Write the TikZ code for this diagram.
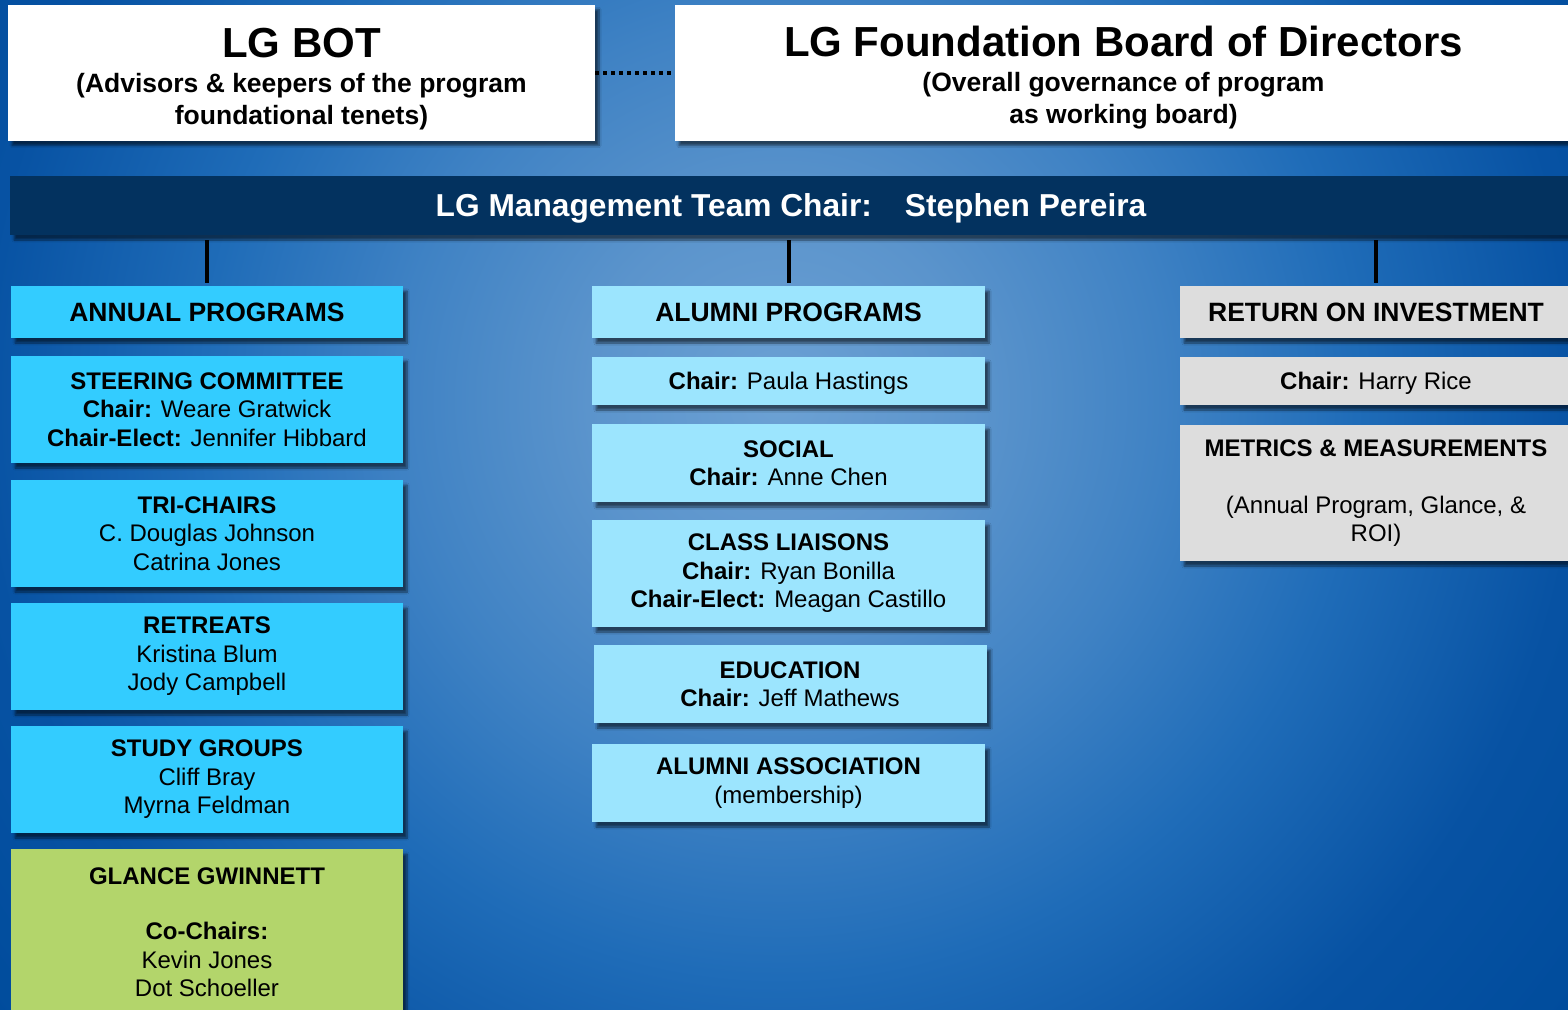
\documentclass[tikz,border=0pt]{standalone}
\usepackage{fontspec}
\setmainfont{Liberation Sans}
\usetikzlibrary{shadows.blur}

\definecolor{bgcore}{HTML}{6CA1D4}
\definecolor{bgmid}{HTML}{5B94CC}
\definecolor{bgfar}{HTML}{3F82C4}
\definecolor{bgout}{HTML}{1F6CB8}
\definecolor{bgedge}{HTML}{0752A3}
\definecolor{bgcorner}{HTML}{004C9C}
\definecolor{navy}{HTML}{03325F}
\definecolor{annual}{HTML}{33CCFF}
\definecolor{alumni}{HTML}{9CE5FE}
\definecolor{roigray}{HTML}{DDDDDD}
\definecolor{glance}{HTML}{B3D56B}
\pgfdeclareradialshading{bgglow}{\pgfpoint{0bp}{0bp}}{color(0bp)=(bgcore); color(4.8bp)=(bgmid); color(9.6bp)=(bgfar); color(14.4bp)=(bgout); color(20bp)=(bgedge); color(25bp)=(bgcorner); color(50bp)=(bgcorner)}

\begin{document}
\begin{tikzpicture}[x=1pt,y=-1pt,
  box/.style={rectangle,inner sep=0pt,align=center,font=\fontsize{24}{28.5}\selectfont,
    blur shadow={shadow xshift=4pt,shadow yshift=-5pt,shadow blur steps=8,shadow opacity=55}},
  topbox/.style={box,fill=white,minimum height=136pt,font=\fontsize{26.5}{32}\selectfont\bfseries},
  head/.style={minimum height=52pt,text height=19pt,text depth=0pt,font=\fontsize{26.5}{30}\selectfont\bfseries},
  oneline/.style={minimum height=48pt,text height=17.2pt,text depth=0pt},
  annbox/.style={box,fill=annual,minimum width=392pt},
  alubox/.style={box,fill=alumni,minimum width=393pt},
  roibox/.style={box,fill=roigray,minimum width=392pt},
  conn/.style={line width=4pt,shorten <=5pt,shorten >=3pt},
  dotline/.style={line width=4pt,dash pattern=on 4pt off 4pt}]
\useasboundingbox (0,0) rectangle (1568,1009);
\clip (0,0) rectangle (1568,1009);
\fill[bgcorner] (0,0) rectangle (1568,1009);
\shade[shading=bgglow] (780,400) circle (1000pt);

\node[topbox,minimum width=587pt] (bot) at (301.5,72.5) {\rule{0pt}{42pt}{\fontsize{42}{42}\selectfont LG BOT}\\[2.5pt](Advisors \& keepers of the program\\foundational tenets)};
\node[topbox,minimum width=897pt] (found) at (1123.5,72.5) {\rule{0pt}{41pt}{\fontsize{42}{42}\selectfont LG Foundation Board of Directors}\\[3pt](Overall governance of program\\as working board)};
\draw[dotline] (bot.east) -- (found.west);

\node[box,fill=navy,text=white,minimum width=1562pt,minimum height=59pt,text height=22.7pt,text depth=0pt,font=\fontsize{31.7}{34}\selectfont\bfseries] (bar) at (791,205.5) {LG Management Team Chair:\hspace{33pt}Stephen Pereira};

\node[annbox,head] (ann) at (207,312) {ANNUAL PROGRAMS};
\node[annbox,minimum height=107pt] (steer) at (207,409.5) {\textbf{STEERING COMMITTEE}\\\textbf{Chair:} Weare Gratwick\\\textbf{Chair-Elect:} Jennifer Hibbard};
\node[annbox,minimum height=107pt] (tri) at (207,533.5) {\textbf{TRI-CHAIRS}\\C. Douglas Johnson\\Catrina Jones};
\node[annbox,minimum height=107pt] (retreat) at (207,656.5) {\textbf{RETREATS}\\Kristina Blum\\Jody Campbell};
\node[annbox,minimum height=107pt] (study) at (207,779.5) {\textbf{STUDY GROUPS}\\Cliff Bray\\Myrna Feldman};
\node[annbox,fill=glance,minimum height=166pt] (glance) at (207,932) {\textbf{GLANCE GWINNETT}\\[27pt]\textbf{Co-Chairs:}\\Kevin Jones\\Dot Schoeller};

\node[alubox,head] (alum) at (788.5,312) {ALUMNI PROGRAMS};
\node[alubox,oneline] (paula) at (788.5,381) {\textbf{Chair:} Paula Hastings};
\node[alubox,minimum height=78pt] (social) at (788.5,463) {\textbf{SOCIAL}\\\textbf{Chair:} Anne Chen};
\node[alubox,minimum height=107pt] (liaison) at (788.5,573.5) {\textbf{CLASS LIAISONS}\\\textbf{Chair:} Ryan Bonilla\\\textbf{Chair-Elect:} Meagan Castillo};
\node[alubox,minimum height=78pt] (edu) at (790,684) {\textbf{EDUCATION}\\\textbf{Chair:} Jeff Mathews};
\node[alubox,minimum height=78pt] (assoc) at (788.5,783) {\textbf{ALUMNI ASSOCIATION}\\(membership)};

\node[roibox,head] (roi) at (1376,312) {RETURN ON INVESTMENT};
\node[roibox,oneline] (rice) at (1376,381) {\textbf{Chair:} Harry Rice};
\node[roibox,minimum height=136pt] (metrics) at (1376,493) {\textbf{METRICS \& MEASUREMENTS}\\[28.5pt](Annual Program, Glance, \&\\ROI)};

\draw[conn] (bar.south -| ann.north) -- (ann.north);
\draw[conn] (bar.south -| alum.north) -- (alum.north);
\draw[conn] (bar.south -| roi.north) -- (roi.north);

\end{tikzpicture}
\end{document}
